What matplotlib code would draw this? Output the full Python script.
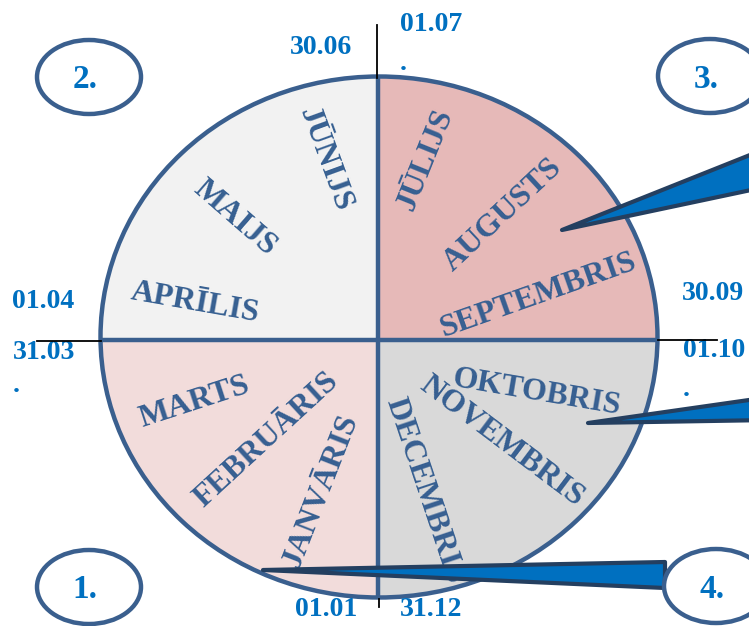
import matplotlib
matplotlib.use("Agg")
import matplotlib.pyplot as plt
from matplotlib.patches import Ellipse, Rectangle, Polygon

# --- data -------------------------------------------------------------
MONTHS = ["JANVĀRIS", "FEBRUĀRIS", "MARTS", "APRĪLIS", "MAIJS", "JŪNIJS",
          "JŪLIJS", "AUGUSTS", "SEPTEMBRIS", "OKTOBRIS", "NOVEMBRIS", "DECEMBRIS"]
QUARTERS = ["1.", "2.", "3.", "4."]
DATES = ["01.01", "31.03\n.", "01.04", "30.06", "01.07\n.", "30.09", "01.10\n.", "31.12"]

# --- layout (pixel space, y down) -------------------------------------
W, H = 749, 626
CX, CY, RW, RH = 379, 337, 557, 521      # wheel ellipse
VX, HY = 378, 340                        # quadrant dividers

MONTH_XY = [(321, 491), (266, 440), (195, 402), (195, 303), (235, 218), (325, 159),
            (426, 160), (503, 215), (538, 295), (537, 393), (502, 441), (424, 491)]
MONTH_ROT = [68.6, 42.6, 18, -10, -41, -70,
             68, 43, 19.5, -9.6, -37, -71.5]

QUARTER_XY = [(89, 587), (89, 77), (710, 76), (716, 586)]
QUARTER_FILL = ["#F2DCDB", "#F2F2F2", "#E6B9B8", "#D9D9D9"]
# quadrant rectangles: (x0, y0, w, h)
QUAD_RECT = [(0, HY, VX, H - HY), (0, 0, VX, HY), (VX, 0, W - VX, HY), (VX, HY, W - VX, H - HY)]

DATE_XY = [(326, 609), (13, 340), (43, 302), (321, 48), (400, 12), (713, 293), (683, 338), (431, 610)]
DATE_TOPLEFT = [False, True, False, False, True, False, True, False]
DATE_SPACING = [1.2, 1.4, 1.2, 1.2, 1.75, 1.2, 1.75, 1.2]

CALLOUTS = [
    [(562, 230), (770, 147), (770, 186)],
    [(588, 423), (770, 397), (770, 420)],
    [(263, 570), (665, 562), (665, 588)],
]

EDGE = "#3A5F8E"
TEXT = "#365F91"
BLUE = "#0070C0"
DARK = "#243F60"
SERIF = ["Liberation Serif", "DejaVu Serif"]

fig = plt.figure(figsize=(W / 100, H / 100), dpi=100)
ax = fig.add_axes([0, 0, 1, 1])
ax.set_xlim(0, W)
ax.set_ylim(H, 0)
ax.axis("off")

wheel = Ellipse((CX, CY), RW, RH, fill=False, edgecolor=EDGE, lw=3.2, zorder=4)
ax.add_patch(wheel)
for (x0, y0, w, h), col in zip(QUAD_RECT, QUARTER_FILL):
    r = Rectangle((x0, y0), w, h, facecolor=col, edgecolor="none", zorder=1)
    ax.add_patch(r)
    r.set_clip_path(wheel)

vl, = ax.plot([VX, VX], [0, H], color=EDGE, lw=3.2, zorder=3)
hl, = ax.plot([0, W], [HY, HY], color=EDGE, lw=3.2, zorder=3)
vl.set_clip_path(wheel)
hl.set_clip_path(wheel)

# thin black axis stubs
ax.plot([377, 377], [25, 78], color="black", lw=1.3, zorder=5)
ax.plot([379, 379], [599, 607], color="black", lw=1.3, zorder=5)
ax.plot([37, 101], [341, 341], color="black", lw=1.3, zorder=5)
ax.plot([658, 717], [340, 340], color="black", lw=1.3, zorder=5)

for name, (x, y), rot in zip(MONTHS, MONTH_XY, MONTH_ROT):
    ax.text(x, y, name, rotation=rot, rotation_mode="anchor", ha="center", va="center",
            color=TEXT, fontsize=23, fontweight="bold", family=SERIF, zorder=3)

for lab, (x, y), tl, ls in zip(DATES, DATE_XY, DATE_TOPLEFT, DATE_SPACING):
    if tl:
        ax.text(x, y, lab, ha="left", va="top", color=BLUE, fontsize=20,
                fontweight="bold", family=SERIF, linespacing=ls, zorder=4)
    else:
        ax.text(x, y, lab, ha="center", va="center", color=BLUE, fontsize=20,
                fontweight="bold", family=SERIF, zorder=4)

for pts in CALLOUTS:
    ax.add_patch(Polygon(pts, closed=True, facecolor=BLUE, edgecolor=DARK, lw=3,
                         joinstyle="round", zorder=6))

for lab, (x, y) in zip(QUARTERS, QUARTER_XY):
    ax.add_patch(Ellipse((x, y), 104, 74, facecolor="white", edgecolor=EDGE, lw=3.2, zorder=7))
    ax.text(x - 4, y + 3, lab, ha="center", va="center", color=BLUE, fontsize=24,
            fontweight="bold", family=SERIF, zorder=8)

fig.savefig("out.png", dpi=100)
